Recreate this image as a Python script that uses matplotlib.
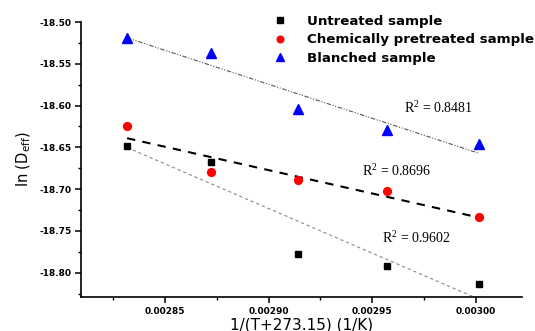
import numpy as np
import matplotlib
matplotlib.use("Agg")
import matplotlib.pyplot as plt
from matplotlib.ticker import MultipleLocator

# temperatures 80..60 C -> 1/(T+273.15)
temps = [80, 75, 70, 65, 60]
inv_t = [1.0 / (t + 273.15) for t in temps]

untreated = [-18.648, -18.667, -18.778, -18.792, -18.813]
chemical = [-18.625, -18.680, -18.689, -18.702, -18.733]
blanched = [-18.519, -18.537, -18.604, -18.629, -18.646]

r2_labels = ["R$^\\mathregular{2}$ = 0.9602", "R$^\\mathregular{2}$ = 0.8696", "R$^\\mathregular{2}$ = 0.8481"]
legend_labels = ["Untreated sample", "Chemically pretreated sample", "Blanched sample"]

fig = plt.figure(figsize=(5.35, 3.31), dpi=100)
ax = fig.add_axes([0.1514, 0.1027, 0.8243, 0.8308])

x = np.array(inv_t)

# trend lines (linear fits)
fit_styles = [
    dict(color="#8a8a8a", lw=0.8, ls=(0, (3, 2.5))),
    dict(color="black", lw=1.5, ls=(0, (4, 3.5))),
    dict(color="#555555", lw=0.8, ls=(0, (4, 1.5, 1, 1.5, 1, 1.5))),
]
for ys, st in zip([untreated, chemical, blanched], fit_styles):
    k, b = np.polyfit(x, ys, 1)
    ax.plot(x, k * x + b, zorder=1, **st)

ax.plot(x, untreated, ls="none", marker="s", ms=4.8, color="black", label=legend_labels[0], zorder=3)
ax.plot(x, chemical, ls="none", marker="o", ms=5.6, color="red", label=legend_labels[1], zorder=3)
ax.plot(x, blanched, ls="none", marker="^", ms=6.5, color="blue", label=legend_labels[2], zorder=3)

ax.set_xlim(0.0028094, 0.0030224)
ax.set_ylim(-18.829, -18.50)
ax.xaxis.set_major_locator(MultipleLocator(0.00005))
ax.xaxis.set_minor_locator(MultipleLocator(0.000025))
ax.yaxis.set_major_locator(MultipleLocator(0.05))
ax.yaxis.set_minor_locator(MultipleLocator(0.025))
ax.xaxis.set_major_formatter(plt.FuncFormatter(lambda v, p: f"{v:.5f}"))
ax.yaxis.set_major_formatter(plt.FuncFormatter(lambda v, p: f"{v:.2f}"))

for s in ["top", "right"]:
    ax.spines[s].set_visible(False)
for s in ["left", "bottom"]:
    ax.spines[s].set_linewidth(1.2)
ax.tick_params(which="major", direction="out", length=4, width=1.1, labelsize=6.5, pad=3)
ax.tick_params(which="minor", direction="out", length=2.5, width=1.0)
for lab in ax.get_xticklabels() + ax.get_yticklabels():
    lab.set_fontweight("bold")

ax.set_xlabel("1/(T+273.15) (1/K)", fontsize=11, labelpad=1)
ax.set_ylabel("ln (D$_\\mathregular{eff}$)", fontsize=10.5, labelpad=4)

# R^2 annotations
serif = dict(fontsize=10, family="Liberation Serif", ha="left", va="center")
ax.text(0.0029548, -18.758, r2_labels[0], **serif)
ax.text(0.0029451, -18.678, r2_labels[1], **serif)
ax.text(0.0029654, -18.602, r2_labels[2], **serif)

ax.legend(loc="upper left", bbox_to_anchor=(0.419, 1.06), frameon=False,
          prop=dict(weight="bold", size=9.6), handlelength=0.8, handletextpad=1.6,
          labelspacing=0.42, borderpad=0.2, markerscale=0.85)

fig.savefig("out.png", dpi=100)
